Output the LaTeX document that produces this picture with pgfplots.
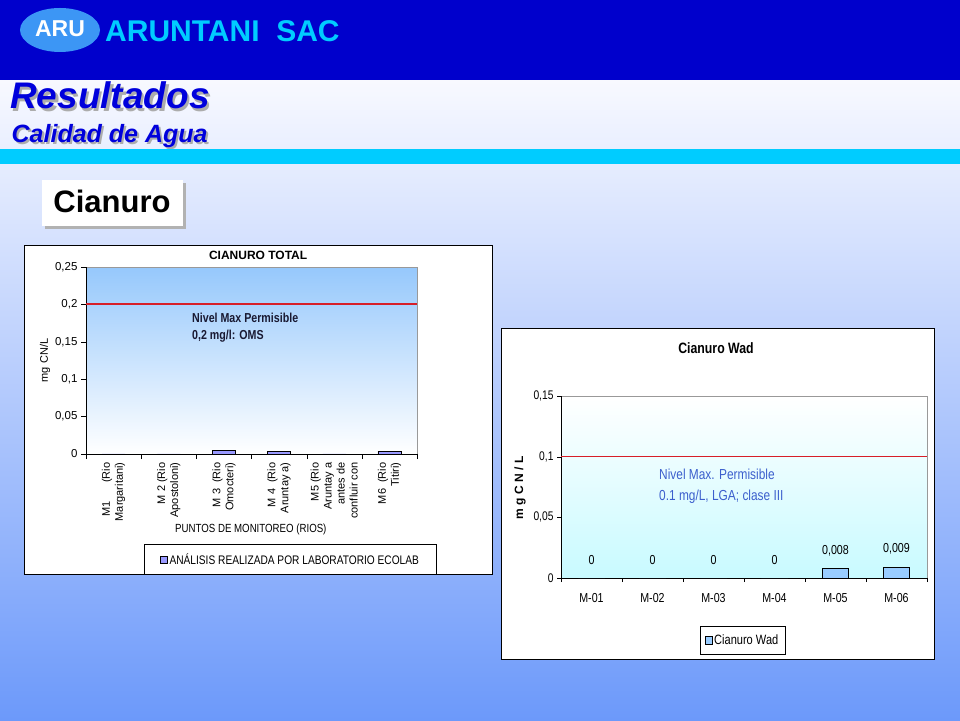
\documentclass[border=0pt]{standalone}
\usepackage{fontspec}
\setmainfont{Liberation Sans}
\newfontfamily\cond[FakeStretch=0.82]{Liberation Sans}
\usepackage{pgfplots}
\pgfplotsset{compat=1.18}

\definecolor{hdr}{RGB}{0,0,204}
\definecolor{cyanband}{RGB}{0,204,255}
\definecolor{aru}{RGB}{60,150,245}
\definecolor{bgtop}{RGB}{248,249,255}
\definecolor{bgbot}{RGB}{108,153,250}
\definecolor{titleblue}{RGB}{0,0,220}
\definecolor{plotblue}{RGB}{150,200,252}
\definecolor{plotcyan}{RGB}{200,250,255}
\definecolor{barviolet}{RGB}{153,153,255}
\definecolor{barblue}{RGB}{153,204,255}
\definecolor{limred}{RGB}{215,30,40}
\definecolor{annblue}{RGB}{60,95,205}
\definecolor{anndark}{RGB}{25,25,50}

\begin{document}
\begin{tikzpicture}[x=1pt,y=1pt]
\path[use as bounding box] (0,0) rectangle (960,720);

% slide background and header
\shade[top color=bgtop, bottom color=bgbot] (0,0) rectangle (960,640);
\fill[hdr] (0,640) rectangle (960,720);
\fill[aru] (60,690) ellipse [x radius=40pt, y radius=22pt];
\node[text=white, font=\bfseries\fontsize{23}{23}\selectfont] at (60,691) {ARU};
\node[anchor=base west, inner sep=0, text=cyanband, font=\bfseries\fontsize{30}{30}\selectfont] at (105,678) {ARUNTANI\ \ SAC};

\node[anchor=base west, inner sep=0, text=gray!65, font=\bfseries\itshape\fontsize{37}{37}\selectfont] at (12.5,608.5) {Resultados};
\node[anchor=base west, inner sep=0, text=titleblue, font=\bfseries\itshape\fontsize{37}{37}\selectfont] at (10,611) {Resultados};
\node[anchor=base west, inner sep=0, text=gray!65, font=\bfseries\itshape\fontsize{25}{25}\selectfont] at (13.5,575) {Calidad de Agua};
\node[anchor=base west, inner sep=0, text=titleblue, font=\bfseries\itshape\fontsize{25}{25}\selectfont] at (11.5,577) {Calidad de Agua};
\fill[cyanband] (0,556) rectangle (960,571);

\fill[gray!60] (45,491) rectangle (186,537);
\fill[white] (42,494) rectangle (183,540);
\node[anchor=base, inner sep=0, font=\bfseries\fontsize{31}{31}\selectfont] at (112,507) {Cianuro};

% chart frames
\draw[black, fill=white] (24,146) rectangle (492,475);
\draw[black, fill=white] (501,61) rectangle (934,392);

% Cianuro total
\begin{axis}[
    at={(86pt,266pt)}, anchor=south west,
    width=331pt, height=187pt, scale only axis,
    xmin=-0.5, xmax=5.5, ymin=0, ymax=0.25,
    axis x line=bottom, axis y line=left,
    axis line style={-, black},
    axis background/.style={shade, top color=plotblue, bottom color=white, draw=gray!80},
    tick align=outside, major tick length=5pt, minor tick length=5pt,
    tick style={black},
    ytick={0,0.05,0.1,0.15,0.2,0.25},
    y tick label style={/pgf/number format/fixed, /pgf/number format/use comma,
        /pgf/number format/precision=2, /pgf/number format/assume math mode=true,
        font=\fontsize{11.5}{11.5}\selectfont},
    xtick={0,1,2,3,4,5},
    xticklabels={{M1\ \ \ \ \ \ (Rio\\Margaritani)}, {M 2 (Rio\\Apostoloni)},
        {M 3\ \ (Rio\\Omocteri)}, {M 4\ \ (Rio\\Aruntay a)},
        {M5 (Rio\\Aruntay a\\antes de\\confluir con}, {M6\ \ (Rio\\Titiri)}},
    major x tick style={draw=none},
    minor xtick={-0.5,0.5,1.5,2.5,3.5,4.5,5.5},
    x tick label style={rotate=90, anchor=east, align=right, font=\fontsize{11}{13}\selectfont},
    every axis title shift=0pt,
    title={CIANURO TOTAL},
    title style={at={(axis description cs:0.52,1.064)}, anchor=center, font=\bfseries\fontsize{12}{12}\selectfont},
    xlabel={PUNTOS DE MONITOREO (RIOS)},
    xlabel style={at={(axis description cs:0.498,-0.406)}, anchor=center, font=\cond\fontsize{11.8}{12}\selectfont},
    ylabel={mg CN/L},
    ylabel style={at={(axis description cs:-0.124,0.5)}, anchor=center, font=\fontsize{11}{11}\selectfont},
    legend style={at={(axis description cs:0.618,-0.564)}, anchor=center, draw=black, fill=white,
        inner xsep=15.5pt, inner ysep=7pt, font=\cond\fontsize{12.4}{12.4}\selectfont},
    legend image code/.code={\draw[#1] (0pt,-3.5pt) rectangle (7pt,3.5pt);},
]
\addplot[ybar, bar width=23pt, fill=barviolet, draw=black] coordinates {
    (0,0) (1,0) (2,0.005) (3,0.004) (4,0) (5,0.004)
};
\addlegendentry{ANÁLISIS REALIZADA POR LABORATORIO ECOLAB}
\addplot[draw=limred, line width=2pt, forget plot] coordinates {(-0.5,0.2) (5.5,0.2)};
\node[anchor=west, inner sep=0, align=left, text=anndark, font=\cond\bfseries\fontsize{13}{17}\selectfont]
    at (axis cs:1.421,0.169) {Nivel Max Permisible\\0,2 mg/l: OMS};
\end{axis}

% Cianuro Wad
\begin{axis}[
    at={(561pt,142pt)}, anchor=south west,
    width=366pt, height=182pt, scale only axis,
    xmin=-0.5, xmax=5.5, ymin=0, ymax=0.15,
    axis x line=bottom, axis y line=left,
    axis line style={-, black},
    axis background/.style={shade, top color=white, bottom color=plotcyan, draw=gray!80},
    tick align=outside, major tick length=4pt, minor tick length=4pt,
    tick style={black},
    ytick={0,0.05,0.1,0.15},
    y tick label style={/pgf/number format/fixed, /pgf/number format/use comma,
        /pgf/number format/precision=2, /pgf/number format/assume math mode=true,
        font=\cond\fontsize{12.5}{12.5}\selectfont},
    xtick={0,1,2,3,4,5},
    xticklabels={M-01,M-02,M-03,M-04,M-05,M-06},
    major x tick style={draw=none},
    minor xtick={-0.5,0.5,1.5,2.5,3.5,4.5,5.5},
    x tick label style={font=\cond\fontsize{13}{13}\selectfont, yshift=-8pt},
    every axis title shift=0pt,
    title={Cianuro Wad},
    title style={at={(axis description cs:0.4235,1.264)}, anchor=center, font=\cond\bfseries\fontsize{15}{15}\selectfont},
    ylabel={m g C N / L},
    ylabel style={at={(axis description cs:-0.112,0.495)}, anchor=center, font=\bfseries\fontsize{12}{12}\selectfont},
    legend style={at={(axis description cs:0.496,-0.341)}, anchor=center, draw=black, fill=white,
        inner xsep=4.5pt, inner ysep=6pt, font=\cond\fontsize{13.5}{13.5}\selectfont},
    legend image code/.code={\draw[#1] (0pt,-4pt) rectangle (7pt,4pt);},
    nodes near coords,
    every node near coord/.append style={anchor=center, yshift=18pt, text=black,
        font=\cond\fontsize{13}{13}\selectfont,
        /pgf/number format/fixed, /pgf/number format/use comma,
        /pgf/number format/precision=3, /pgf/number format/assume math mode=true},
]
\addplot[ybar, bar width=26pt, fill=barblue, draw=black] coordinates {
    (0,0) (1,0) (2,0) (3,0) (4,0.008) (5,0.009)
};
\addlegendentry{Cianuro Wad}
\end{axis}

\begin{axis}[
    at={(561pt,142pt)}, anchor=south west,
    width=366pt, height=182pt, scale only axis,
    xmin=-0.5, xmax=5.5, ymin=0, ymax=0.15,
    hide axis,
]
\addplot[draw=limred, line width=1pt] coordinates {(-0.5,0.1) (5.5,0.1)};
\node[anchor=west, inner sep=0, align=left, text=annblue, font=\cond\fontsize{14.5}{21}\selectfont]
    at (axis cs:1.107,0.0754) {Nivel Max. Permisible\\0.1 mg/L, LGA; clase III};
\end{axis}
\end{tikzpicture}
\end{document}
